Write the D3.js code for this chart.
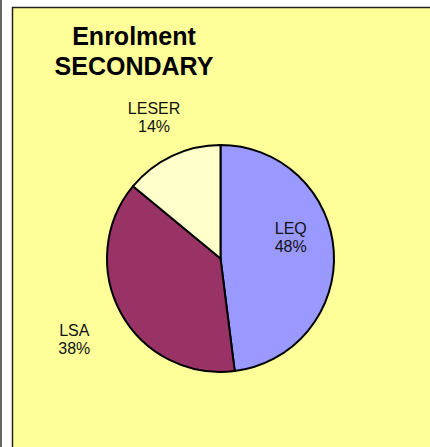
<!DOCTYPE html>
<html>
<head>
<meta charset="utf-8">
<script src="https://cdn.jsdelivr.net/npm/d3@7"></script>
<style>
  html, body { margin: 0; padding: 0; background: #fff; }
  svg { display: block; }
</style>
</head>
<body>
<svg id="canvas" width="430" height="447"></svg>
<script>
// data
const categories = ["LEQ", "LSA", "LESER"];
const shares = [48, 38, 14];
const colors = ["#9999FF", "#993366", "#FFFFCC"];
const titleLines = ["Enrolment", "SECONDARY"];

const svg = d3.select("#canvas");
const width = 430, height = 447;

// left grey edge + panel
svg.append("rect").attr("x", 0).attr("y", 0).attr("width", 2).attr("height", height).attr("fill", "#666");
svg.append("rect")
  .attr("x", 12.5).attr("y", 7.5)
  .attr("width", width).attr("height", height)
  .attr("fill", "#FFFF99")
  .attr("stroke", "#222").attr("stroke-width", 1.5);

// title
svg.append("text")
  .attr("x", 134).attr("y", 45)
  .attr("text-anchor", "middle")
  .attr("font-family", "Liberation Sans, Arial, sans-serif")
  .attr("font-weight", "bold")
  .attr("font-size", 25)
  .attr("fill", "#000")
  .selectAll("tspan")
  .data(titleLines)
  .enter().append("tspan")
  .attr("x", 134)
  .attr("dy", (d, i) => i === 0 ? 0 : 30)
  .text(d => d);

// pie
const cx = 220.5, cy = 258.5, r = 113.5;
const data = categories.map((c, i) => ({ name: c, value: shares[i], color: colors[i] }));

const pie = d3.pie().sort(null).value(d => d.value);
const arc = d3.arc().innerRadius(0).outerRadius(r);
const arcs = pie(data);

const g = svg.append("g").attr("transform", `translate(${cx},${cy})`);

g.selectAll("path")
  .data(arcs)
  .enter().append("path")
  .attr("d", arc)
  .attr("fill", d => d.data.color)
  .attr("stroke", "#000")
  .attr("stroke-width", 2)
  .attr("stroke-linejoin", "round");

// label placement (radius factor, vertical nudge) like Excel's best fit
const labelPos = { LEQ: [0.62, -17], LSA: [1.47, 0], LESER: [1.375, 0] };

const labels = g.selectAll("text.lbl")
  .data(arcs)
  .enter().append("text")
  .attr("class", "lbl")
  .attr("text-anchor", "middle")
  .attr("font-family", "Liberation Sans, Arial, sans-serif")
  .attr("font-size", 16)
  .attr("fill", "#111")
  .attr("transform", d => {
    const p = labelPos[d.data.name];
    const a = d3.arc().innerRadius(r * p[0]).outerRadius(r * p[0]);
    const [x, y] = a.centroid(d);
    return `translate(${x},${y + p[1]})`;
  });

labels.append("tspan").attr("x", 0).attr("y", -3).text(d => d.data.name);
labels.append("tspan").attr("x", 0).attr("y", 15).text(d => d.data.value + "%");
</script>
</body>
</html>
